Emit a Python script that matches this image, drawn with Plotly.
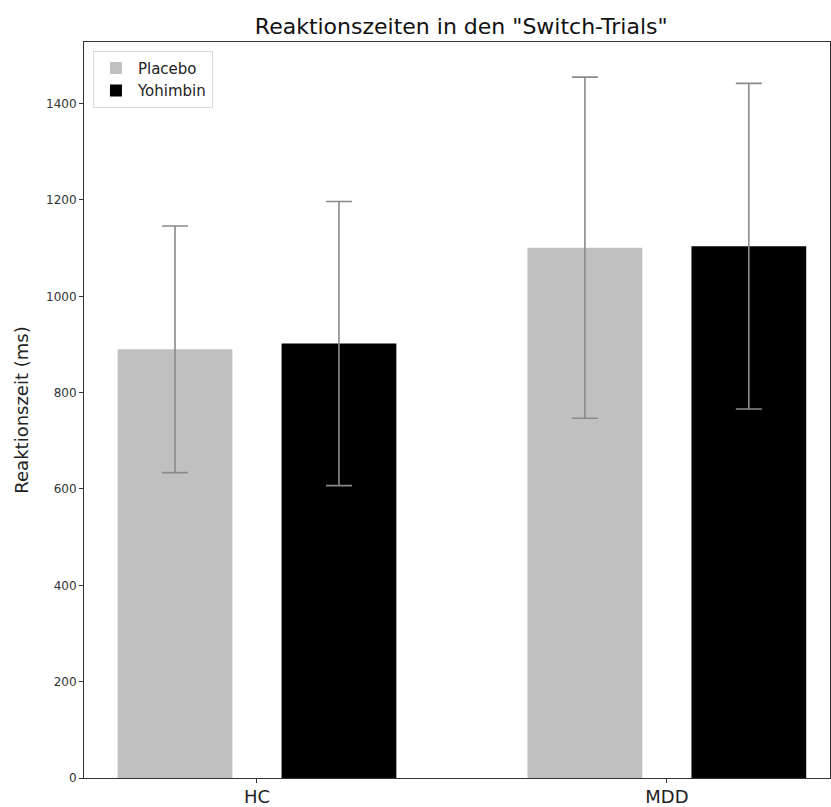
import plotly.graph_objects as go

categories = ["HC", "MDD"]
placebo_means = [890, 1101]
placebo_sd = [256, 354]
yohimbin_means = [902, 1104]
yohimbin_sd = [295, 338]
y_ticks = [0, 200, 400, 600, 800, 1000, 1200, 1400]

FONT = "DejaVu Sans"
err_style = dict(type="data", visible=True, color="#8a8a8a", thickness=1.6, width=13)

fig = go.Figure()
fig.add_trace(go.Bar(
    name="Placebo", x=categories, y=placebo_means,
    marker=dict(color="#c0c0c0", line=dict(width=0)),
    error_y=dict(array=placebo_sd, **err_style),
))
fig.add_trace(go.Bar(
    name="Yohimbin", x=categories, y=yohimbin_means,
    marker=dict(color="#000000", line=dict(width=0)),
    error_y=dict(array=yohimbin_sd, **err_style),
))

fig.update_layout(
    width=831, height=807, autosize=False,
    margin=dict(l=84, r=1, t=42, b=29, autoexpand=False),
    paper_bgcolor="white", plot_bgcolor="white",
    barmode="group", bargap=0.2, bargroupgap=0.3,
    font=dict(family=FONT, color="#222222"),
    title=dict(text='Reaktionszeiten in den "Switch-Trials"',
               x=0.555, xanchor="center", y=0.967, yanchor="middle",
               font=dict(family=FONT, size=22, color="#111111")),
    legend=dict(x=0.012, y=0.988, xanchor="left", yanchor="top",
                bgcolor="rgba(255,255,255,0.9)", bordercolor="#d8d8d8", borderwidth=1,
                font=dict(family=FONT, size=15, color="#222222"),
                itemwidth=34, tracegroupgap=2),
    showlegend=True,
)
fig.update_xaxes(
    type="category", range=[-0.422, 1.398], automargin=False,
    showline=True, linecolor="#333333", linewidth=1, mirror=True,
    ticks="outside", ticklen=4, tickcolor="#333333",
    tickfont=dict(family=FONT, size=18, color="#222222"),
    ticklabelstandoff=-2,
    showgrid=False, zeroline=False,
)
fig.update_yaxes(
    range=[0, 1528], tickmode="array", tickvals=y_ticks, automargin=False,
    ticktext=[str(v) for v in y_ticks],
    showline=True, linecolor="#333333", linewidth=1, mirror=True,
    ticks="outside", ticklen=4, tickcolor="#333333",
    tickfont=dict(family=FONT, size=12, color="#333333"),
    title=dict(text="Reaktionszeit (ms)", font=dict(family=FONT, size=18, color="#222222"), standoff=12),
    showgrid=False, zeroline=False,
)

fig.write_html("out.html", config={"displayModeBar": False},
               post_script="document.body.style.margin='0';document.body.style.overflow='hidden';")
